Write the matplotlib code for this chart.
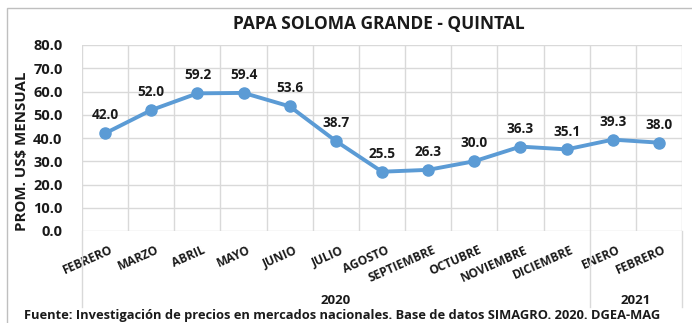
import matplotlib.pyplot as plt
from matplotlib.lines import Line2D
from matplotlib.patches import Rectangle

months = ["FEBRERO", "MARZO", "ABRIL", "MAYO", "JUNIO", "JULIO", "AGOSTO",
          "SEPTIEMBRE", "OCTUBRE", "NOVIEMBRE", "DICIEMBRE", "ENERO", "FEBRERO"]
prices = [42.0, 52.0, 59.2, 59.4, 53.6, 38.7, 25.5, 26.3, 30.0, 36.3, 35.1, 39.3, 38.0]
years = ["2020", "2021"]
year_counts = [11, 2]
y_ticks = [0, 10, 20, 30, 40, 50, 60, 70, 80]

plt.rcParams['font.family'] = ['Open Sans', 'DejaVu Sans']
W, H = 692, 323
fig = plt.figure(figsize=(W / 100, H / 100), dpi=100)
TXT = "#1a1a1a"

def fx(px):
    return px / W

def fy(py):
    return 1 - py / H

# outer chart frame
fig.add_artist(Rectangle((fx(7), fy(340)), fx(700), fy(8) - fy(340),
                         transform=fig.transFigure, fill=False, edgecolor="#BFBFBF", lw=1))

L, R, T, B = 82, 682, 45, 231
ax = fig.add_axes([fx(L), fy(B), fx(R - L), fy(T) - fy(B)])
n = len(months)
x = list(range(n))
ax.set_xlim(-0.5, n - 0.5)
ax.set_ylim(0, 80)
ax.set_yticks(y_ticks)
ax.set_yticklabels([f"{v:.1f}" for v in y_ticks], fontsize=10.5, fontweight="bold", color=TXT)
ax.set_xticks([i - 0.5 for i in range(n + 1)])
ax.set_xticklabels([])
ax.tick_params(length=0, pad=14)
ax.grid(True, color="#D9D9D9", lw=1)
ax.set_axisbelow(True)
for s in ax.spines.values():
    s.set_visible(False)

ax.plot(x, prices, color="#5B9BD5", lw=2.8, marker="o", ms=8, zorder=3)
for xi, v in zip(x, prices):
    ax.annotate(f"{v:.1f}", (xi, v), xytext=(0, 10), textcoords="offset points",
                ha="center", va="baseline", fontsize=9.8, fontweight="bold", color=TXT)

# category labels
for xi, m in zip(x, months):
    ax.annotate(m, (xi, 0), xycoords="data", xytext=(3, -9), textcoords="offset points",
                ha="right", va="top", rotation=24, rotation_mode="anchor",
                fontsize=8.6, fontweight="bold", color=TXT)

# year grouping lines and labels
bounds = [0]
for c in year_counts:
    bounds.append(bounds[-1] + c)
for b in bounds:
    xb = L + (R - L) * b / n
    fig.add_artist(Line2D([fx(xb), fx(xb)], [fy(B), fy(307)], transform=fig.transFigure,
                          color="#D9D9D9", lw=1))
for yr, b0, b1 in zip(years, bounds[:-1], bounds[1:]):
    xc = L + (R - L) * (b0 + b1) / 2 / n
    fig.text(fx(xc), fy(300.5), yr, ha="center", va="center", fontsize=9.5,
             fontweight="bold", color=TXT)

fig.text(fx(22), fy(151), "PROM. US$ MENSUAL", rotation=90, ha="center", va="center",
         fontsize=10.8, fontweight="bold", color=TXT)

fig.text(fx(379), fy(23.5), "PAPA SOLOMA GRANDE - QUINTAL", ha="center", va="center",
         fontsize=12.5, fontweight="bold", color=TXT)
fig.text(fx(24), fy(322.5), "Fuente: Investigación de precios en mercados nacionales. Base de datos SIMAGRO. 2020. DGEA-MAG",
         ha="left", va="bottom", fontsize=9.3, fontweight="bold", color=TXT)

fig.savefig("out.png", dpi=100)
